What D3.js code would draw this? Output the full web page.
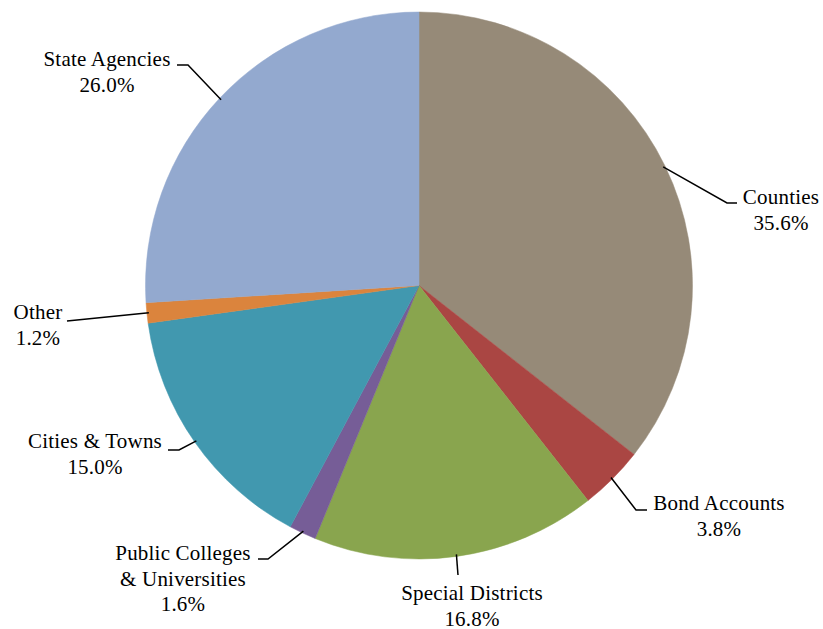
<!DOCTYPE html>
<html>
<head>
<meta charset="utf-8">
<script src="https://cdn.jsdelivr.net/npm/d3@7"></script>
<style>
  html, body { margin: 0; padding: 0; background: #fff; }
  svg { display: block; }
</style>
</head>
<body>
<svg id="chart" width="823" height="629"></svg>
<script>
// ---- data ----
const categories = ["Counties", "Bond Accounts", "Special Districts", "Public Colleges & Universities", "Cities & Towns", "Other", "State Agencies"];
const values = [35.6, 3.8, 16.8, 1.6, 15.0, 1.2, 26.0];
const labelLines = [["Counties"], ["Bond Accounts"], ["Special Districts"], ["Public Colleges", "& Universities"], ["Cities & Towns"], ["Other"], ["State Agencies"]];
const colors = ["#968A78", "#AA4643", "#89A54E", "#765D97", "#4198AF", "#DB843D", "#93A9CF"];

// ---- layout ----
const width = 823, height = 629;
const cx = 419, cy = 285.5, r = 273.5;
const fontFamily = "'Liberation Serif', 'Times New Roman', Times, serif";

// label placement (text centre x, first baseline y, leader elbow, leader end)
const labelLayout = {
  "Counties":                       { tx: 781, ty: 204, elbow: [727, 203], end: [737, 203] },
  "Bond Accounts":                  { tx: 719, ty: 510, elbow: [636, 510], end: [647, 510] },
  "Special Districts":              { tx: 472, ty: 600, elbow: [458, 575], end: [458, 575] },
  "Public Colleges & Universities": { tx: 183, ty: 560, elbow: [268, 559], end: [258, 559] },
  "Cities & Towns":                 { tx: 95,  ty: 448, elbow: [179, 450], end: [168, 450] },
  "Other":                          { tx: 38,  ty: 319, elbow: [77, 320],  end: [67, 321] },
  "State Agencies":                 { tx: 107, ty: 66,  elbow: [188, 65],  end: [177, 65] }
};
const lineH = 25.5;

const data = categories.map((c, i) => ({ name: c, value: values[i], lines: labelLines[i], color: colors[i] }));

const svg = d3.select("#chart");
const g = svg.append("g").attr("transform", `translate(${cx},${cy})`);

const pie = d3.pie().value(d => d.value).sort(null);
const arc = d3.arc().innerRadius(0).outerRadius(r);
const arcs = pie(data);

g.selectAll("path.slice")
  .data(arcs)
  .join("path")
  .attr("class", "slice")
  .attr("d", arc)
  .attr("fill", d => d.data.color)
  .attr("stroke", d => d.data.color)
  .attr("stroke-width", 0.5);

// leader lines
const edge = d3.arc().innerRadius(r - 2).outerRadius(r - 2);
svg.selectAll("polyline.leader")
  .data(arcs)
  .join("polyline")
  .attr("class", "leader")
  .attr("fill", "none")
  .attr("stroke", "#000")
  .attr("stroke-width", 1.5)
  .attr("points", d => {
    const L = labelLayout[d.data.name];
    const p = edge.centroid(d);
    const start = [p[0] + cx, p[1] + cy];
    return [start, L.elbow, L.end].map(q => q.join(",")).join(" ");
  });

// labels
const lbl = svg.selectAll("text.label")
  .data(arcs)
  .join("text")
  .attr("class", "label")
  .attr("font-family", fontFamily)
  .attr("font-size", 21)
  .attr("letter-spacing", 0.2)
  .attr("fill", "#000")
  .attr("text-anchor", "middle");

lbl.each(function(d) {
  const L = labelLayout[d.data.name];
  const t = d3.select(this);
  const lines = d.data.lines.concat([d3.format(".1f")(d.data.value) + "%"]);
  lines.forEach((s, i) => {
    t.append("tspan").attr("x", L.tx).attr("y", L.ty + i * lineH).text(s);
  });
});
</script>
</body>
</html>
